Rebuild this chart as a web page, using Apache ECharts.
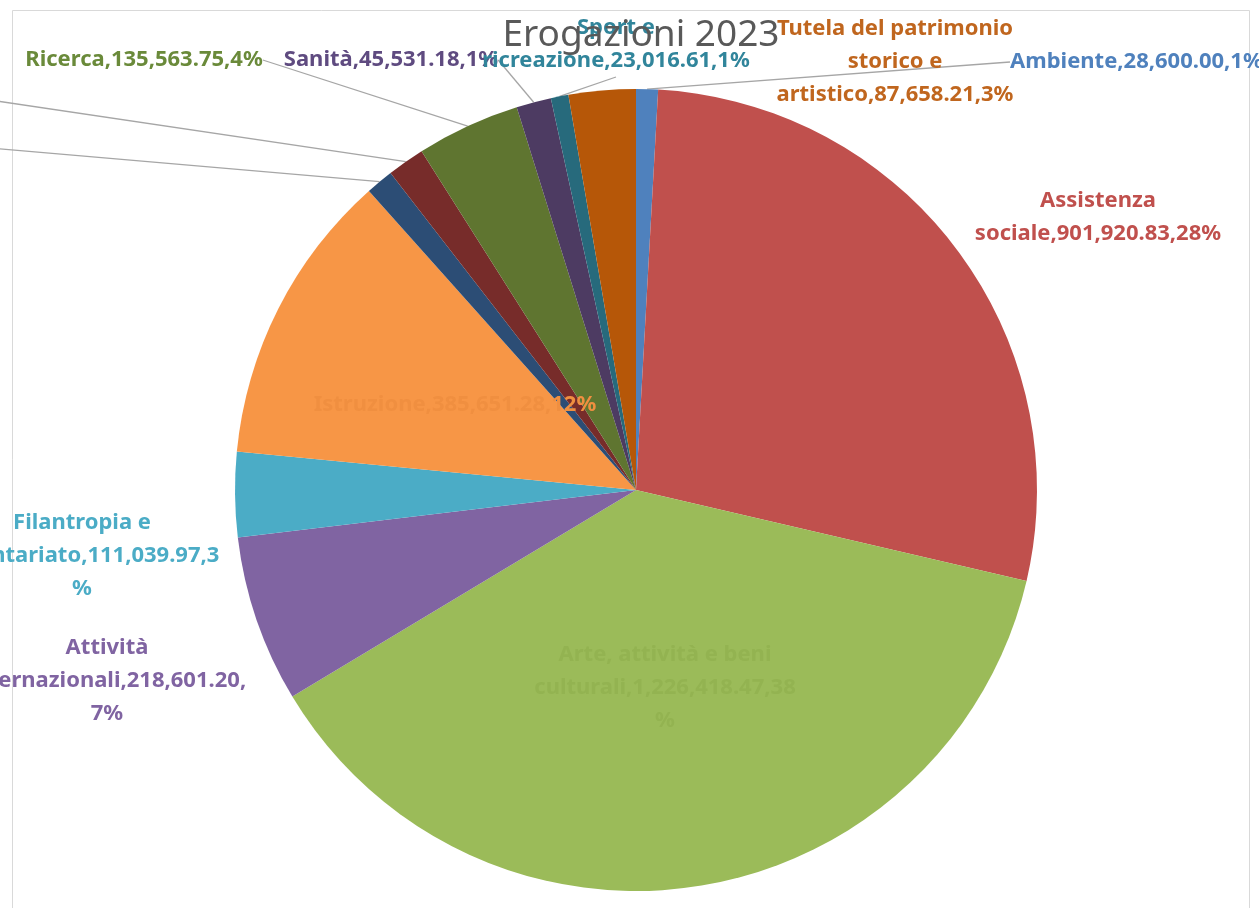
<!DOCTYPE html>
<html>
<head>
<meta charset="utf-8">
<title>Erogazioni 2023</title>
<script src="https://cdn.jsdelivr.net/npm/echarts@6/dist/echarts.min.js"></script>
<style>
    html, body { margin: 0; padding: 0; background: #fff; }
    #chart { width: 1259px; height: 908px; }
</style>
</head>
<body>
<div id="chart"></div>
<script>
// settori, in senso orario partendo dall'alto
var categories = [
    'Ambiente',
    'Assistenza sociale',
    'Arte, attività e beni culturali',
    'Attività internazionali',
    'Filantropia e volontariato',
    'Istruzione',
    'Crescita e formazione giovanile',
    'Famiglia e valori connessi',
    'Ricerca',
    'Sanità',
    'Sport e ricreazione',
    'Tutela del patrimonio storico e artistico'
];
var values = [28600.00, 901920.83, 1226418.47, 218601.20, 111039.97, 385651.28, 36250.00, 48900.00, 135563.75, 45531.18, 23016.61, 87658.21];

var sliceColors = ['#4f81bd', '#c0504d', '#9bbb59', '#8064a2', '#4bacc6', '#f79646', '#2c4d75', '#772c2a', '#5f7530', '#4d3b62', '#276a7c', '#b65708'];
var textColors = ['#4f81bd', '#c0504d', '#93b351', '#8064a2', '#4bacc6', '#f08f40', '#2c4d75', '#772c2a', '#6a8a3a', '#5f4b80', '#31859b', '#c0661e'];

// posizione delle etichette: [x, y, align], a capo dopo n caratteri
var labelPos = [
    [1010, 62, 'left'], [1098, 217, 'center'], [665, 688, 'center'], [107, 681, 'center'],
    [82, 556, 'center'], [455, 405, 'center'], [-10, 148, 'right'], [-10, 100, 'right'],
    [144, 60, 'center'], [391, 60, 'center'], [616, 44, 'center'], [895, 62, 'center']
];
var wrapChars = [40, 22, 25, 26, 25, 40, 40, 40, 40, 40, 24, 22];
var inside = [2, 5];
var noLine = [1, 2, 3, 4, 5, 11];

function wrap(text, max) {
    var words = text.split(' ');
    var lines = [];
    var cur = '';
    words.forEach(function (w) {
        var test = cur ? cur + ' ' + w : w;
        if (test.length <= max) {
            cur = test;
            return;
        }
        if (cur) lines.push(cur);
        while (w.length > max) {
            lines.push(w.slice(0, max));
            w = w.slice(max);
        }
        cur = w;
    });
    if (cur) lines.push(cur);
    return lines.join('\n');
}

var data = categories.map(function (name, i) {
    var item = {
        name: name,
        value: values[i],
        itemStyle: {color: sliceColors[i]},
        label: {color: textColors[i]}
    };
    if (inside.indexOf(i) >= 0) item.label.position = 'inside';
    if (noLine.indexOf(i) >= 0) item.labelLine = {show: false};
    return item;
});

var chart = echarts.init(document.getElementById('chart'));

var option = {
    animation: false,
    backgroundColor: '#fff',
    title: {
        text: 'Erogazioni 2023',
        left: 636,
        top: 12,
        textAlign: 'center',
        textStyle: {
            fontFamily: 'Noto Sans',
            fontSize: 37,
            fontWeight: 'normal',
            color: '#595959'
        }
    },
    graphic: [{
        type: 'rect',
        shape: {x: 12.5, y: 10.5, width: 1237, height: 910},
        style: {fill: 'none', stroke: '#d9d9d9', lineWidth: 1},
        silent: true,
        z: -1
    }],
    series: [{
        type: 'pie',
        center: [636, 490],
        radius: 401,
        startAngle: 90,
        clockwise: true,
        avoidLabelOverlap: false,
        itemStyle: {borderColor: '#fff', borderWidth: 0},
        label: {
            show: true,
            fontFamily: 'Noto Sans',
            fontWeight: 'bold',
            fontSize: 22,
            lineHeight: 33,
            align: 'center',
            formatter: function (p) {
                var txt = p.name + ',' + p.value.toLocaleString('en-US', {minimumFractionDigits: 2, maximumFractionDigits: 2}) +
                    ',' + Math.round(p.percent) + '%';
                return wrap(txt, wrapChars[p.dataIndex]);
            }
        },
        labelLine: {
            show: true,
            length: 10,
            length2: 0,
            smooth: false,
            lineStyle: {color: '#a6a6a6', width: 1.3}
        },
        labelLayout: function (p) {
            var pos = labelPos[p.dataIndex];
            return {
                x: pos[0],
                y: pos[1],
                align: pos[2],
                verticalAlign: 'middle'
            };
        },
        data: data
    }]
};

chart.setOption(option);
</script>
</body>
</html>
